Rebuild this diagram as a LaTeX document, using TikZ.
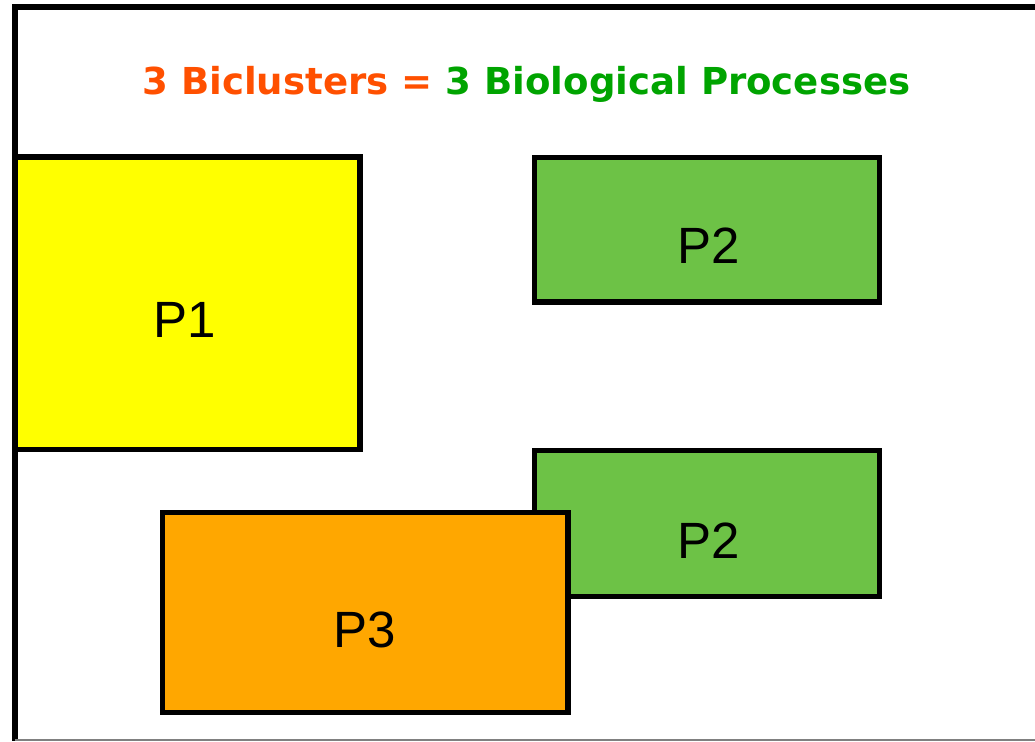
\documentclass[tikz,border=0pt]{standalone}
\usepackage{fontspec}
\setmainfont{Liberation Sans}
\newfontfamily\titlefont{DejaVu Sans}
\definecolor{titleorange}{HTML}{FF5000}
\definecolor{titlegreen}{HTML}{00A400}
\definecolor{pyellow}{HTML}{FFFF00}
\definecolor{pgreen}{HTML}{6DC246}
\definecolor{porange}{HTML}{FFA700}
\begin{document}
\begin{tikzpicture}[x=1pt,y=-1pt,
  procbox/.style={draw=black,line width=5.5pt,line join=miter},
  plabel/.style={font=\fontsize{51}{60}\selectfont,text=black,inner sep=0pt,anchor=base},
  framel/.style={draw=black,line width=6pt}]
\useasboundingbox (0,0) rectangle (1035,741);
\fill[white] (0,0) rectangle (1035,741);
% frame
\coordinate (ftl) at (15,7);
\coordinate (ftr) at (1035,7);
\coordinate (fbl) at (15,741);
\coordinate (fbr) at (1035,740);
\coordinate (fbl2) at (15,740);
\draw[framel] (ftr) -- (ftl) -- (fbl);
\draw[gray,line width=1.5pt] (fbl2) -- (fbr);
% title
\node[anchor=base,inner sep=0pt,font=\titlefont\bfseries\fontsize{37.1}{44}\selectfont] (title) at (526.5,95)
  {\textcolor{titleorange}{3 Biclusters =} \textcolor{titlegreen}{3 Biological Processes}};
% boxes
\draw[procbox,fill=pyellow] (15,157) rectangle (360,449.5);
\node[plabel] (p1) at (185,337) {P1};
\draw[procbox,fill=pgreen] (534.5,157.5) rectangle (879.5,302);
\node[plabel] (p2a) at (708.5,263) {P2};
\draw[procbox,fill=pgreen] (534.5,450.5) rectangle (879.5,596.5);
\node[plabel] (p2b) at (708.5,558) {P2};
\draw[procbox,fill=porange] (162.5,512.5) rectangle (568,712.5);
\node[plabel] (p3) at (365,647) {P3};
\end{tikzpicture}
\end{document}
